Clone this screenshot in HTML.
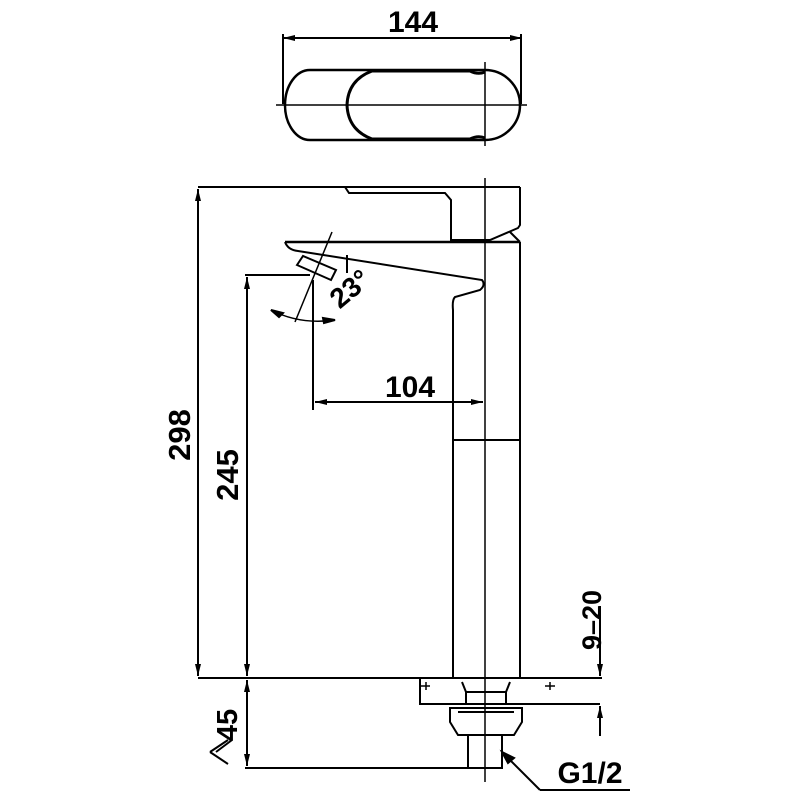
<!DOCTYPE html>
<html><head><style>html,body{margin:0;padding:0;background:#fff}svg{display:block}</style></head><body>
<svg width="800" height="800" viewBox="0 0 800 800" xmlns="http://www.w3.org/2000/svg">
<defs>
<marker id="a" viewBox="0 0 12 6" refX="12" refY="3" markerWidth="12" markerHeight="6" orient="auto-start-reverse" markerUnits="userSpaceOnUse"><path d="M0,0 L12,3 L0,6 z" fill="#000"/></marker>
</defs>
<g fill="none" stroke="#000" stroke-width="2">
<!-- top view -->
<line x1="283" y1="38" x2="522" y2="38" marker-start="url(#a)" marker-end="url(#a)"/>
<line x1="283" y1="34" x2="283" y2="104"/>
<line x1="521" y1="34" x2="521" y2="104"/>
<line x1="276" y1="105" x2="527" y2="105" stroke-width="1.5"/>
<path d="M310,70 L485,70 A35,35 0 0 1 485,140 L310,140 A25,35 0 0 1 310,70 Z" stroke-width="2.5"/>
<path d="M372,71 L470,71 Q478,75 485,72 M372,139 L470,139 Q478,135 485,138 M372,71 Q348,80 347,105 Q348,130 372,139" stroke-width="3"/>
<line x1="485" y1="62" x2="485" y2="146" stroke-width="1.5"/>
<!-- side view body -->
<line x1="198" y1="187" x2="520" y2="187"/>
<line x1="198" y1="189" x2="198" y2="676" marker-start="url(#a)" marker-end="url(#a)"/>
<path d="M345,187 L349,193 L445,193 L451,200 L451,240 L490,240 L518,228 L520,225 L520,187"/>
<line x1="510" y1="232" x2="520" y2="242"/>
<line x1="285" y1="242" x2="520" y2="242" stroke-width="2.5"/>
<path d="M285,242 Q288,250 298,251 L482,280 Q486,285 480,290 L455,297 Q452,300 453,310 L453,678"/>
<line x1="520" y1="242" x2="520" y2="678"/>
<line x1="453" y1="440" x2="520" y2="440"/>
<line x1="485" y1="178" x2="485" y2="782" stroke-width="1.5"/>
<!-- aerator -->
<path d="M297,265 L303,256 L336,270 L331,280 Z"/>
<line x1="347" y1="255" x2="347" y2="273"/>
<!-- 23 deg -->
<line x1="332" y1="232" x2="295" y2="322" stroke-width="1.5"/>
<path d="M271,310 Q300,325 335,320" stroke-width="1.5"/>
<path d="M271,310 L283,313 L279,317 Z" fill="#000"/>
<path d="M335,320 L323,318 L324,323 Z" fill="#000"/>
<!-- 245 -->
<line x1="245" y1="275" x2="310" y2="275"/>
<line x1="247" y1="277" x2="247" y2="676" marker-start="url(#a)" marker-end="url(#a)"/>
<!-- 104 -->
<line x1="313" y1="280" x2="313" y2="410"/>
<line x1="315" y1="402" x2="483" y2="402" marker-start="url(#a)" marker-end="url(#a)"/>
<!-- base -->
<line x1="198" y1="678" x2="602" y2="678"/>
<path d="M420,678 L420,704 L600,704"/>
<path d="M420,686 L430,686 M426,682 L426,690 M545,686 L555,686 M550,682 L550,690" stroke-width="1.5"/>
<path d="M462,682 L466,692 L506,692 L510,682 M466,692 L466,704 M506,692 L506,704"/>
<path d="M450,708 L522,708 L522,722 L514,735 L458,735 L450,722 Z"/>
<line x1="458" y1="712" x2="514" y2="712"/>
<path d="M468,735 L468,768 L502,768 L502,735"/>
<line x1="247" y1="680" x2="247" y2="766" marker-start="url(#a)" marker-end="url(#a)"/>
<line x1="245" y1="768" x2="502" y2="768"/>
<!-- 9-20 -->
<line x1="600" y1="606" x2="600" y2="676" marker-end="url(#a)"/>
<line x1="600" y1="736" x2="600" y2="706" marker-end="url(#a)"/>
<!-- G1/2 leader -->
<path d="M540,790 L630,790 M540,790 L502,752" />
<path d="M502,752 L514,758 L508,763 Z" fill="#000"/>
<path d="M210,752 L228,740 M210,752 L228,764 M216,752 L232,740" stroke-width="2"/>
</g>
<g font-family="Liberation Sans, sans-serif" font-weight="bold" fill="#000" text-anchor="middle">
<text x="413" y="32" font-size="30">144</text>
<text x="410" y="397" font-size="30">104</text>
<text x="0" y="0" font-size="28" transform="translate(356,296) rotate(-40)">23°</text>
<text x="0" y="0" font-size="31" transform="translate(190,435) rotate(-90)">298</text>
<text x="0" y="0" font-size="31" transform="translate(238,475) rotate(-90)">245</text>
<text x="0" y="0" font-size="29" transform="translate(237,725) rotate(-90)">45</text>
<text x="0" y="0" font-size="27" transform="translate(601,620) rotate(-90)">9–20</text>
<text x="590" y="783" font-size="30">G1/2</text>
</g>
</svg>
</body></html>
